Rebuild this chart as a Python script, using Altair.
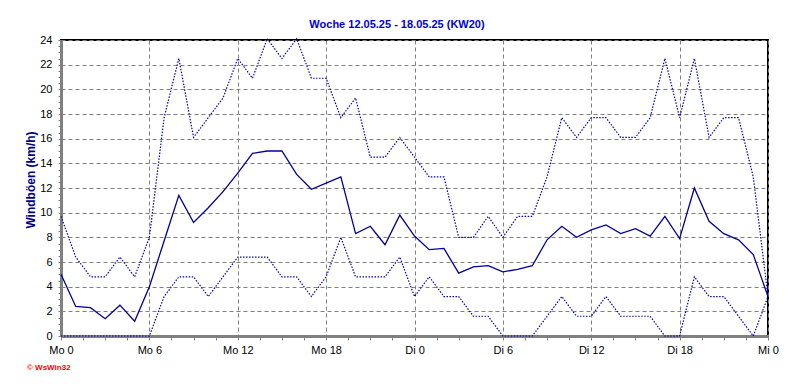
import altair as alt
import pandas as pd

# ---- data -------------------------------------------------------------
hours = list(range(49))
boeen_max = [9.7, 6.4, 4.8, 4.8, 6.4, 4.8, 8.0, 17.7, 22.5, 16.1, 17.7, 19.3, 22.5,
             20.9, 24.1, 22.5, 24.1, 20.9, 20.9, 17.7, 19.3, 14.5, 14.5, 16.1,
             14.5, 12.9, 12.9, 8.0, 8.0, 9.7, 8.0, 9.7, 9.7, 12.9, 17.7, 16.1,
             17.7, 17.7, 16.1, 16.1, 17.7, 22.5, 17.7, 22.5, 16.1, 17.7, 17.7, 12.9, 3.2]
boeen_mittel = [5.0, 2.4, 2.3, 1.4, 2.5, 1.2, 4.0, 7.7, 11.4, 9.2, 10.4, 11.7, 13.2,
                14.8, 15.0, 15.0, 13.1, 11.9, 12.4, 12.9, 8.3, 8.9, 7.4, 9.8,
                8.1, 7.0, 7.1, 5.1, 5.6, 5.7, 5.2, 5.4, 5.7, 7.8, 8.9, 8.0,
                8.6, 9.0, 8.3, 8.7, 8.1, 9.7, 7.9, 12.0, 9.3, 8.3, 7.8, 6.6, 3.2]
boeen_min = [0, 0, 0, 0, 0, 0, 0, 3.2, 4.8, 4.8, 3.2, 4.8, 6.4,
             6.4, 6.4, 4.8, 4.8, 3.2, 4.8, 8.0, 4.8, 4.8, 4.8, 6.4,
             3.2, 4.8, 3.2, 3.2, 1.6, 1.6, 0, 0, 0, 1.6, 3.2, 1.6,
             1.6, 3.2, 1.6, 1.6, 1.6, 0, 0, 4.8, 3.2, 3.2, 1.6, 0, 3.2]

x_major_step = 6
x_tick_labels = ["Mo 0", "Mo 6", "Mo 12", "Mo 18", "Di 0", "Di 6", "Di 12", "Di 18", "Mi 0"]
x_tick_values = [i * 1.5 for i in range(33)]
y_tick_values = [i * 0.5 for i in range(49)]

title_text = ["Woche 12.05.25 - 18.05.25 (KW20)"]
y_title_text = ["Windböen (km/h)"]
credit_text = ["© WsWin32"]

df = pd.DataFrame({"h": hours, "max": boeen_max, "mittel": boeen_mittel, "min": boeen_min})

# ---- styling ----------------------------------------------------------
W, H = 707, 296
FONT = "Liberation Sans"
GRID = "#808080"

label_list = "[" + ",".join("'%s'" % s for s in x_tick_labels) + "]"
x_label_expr = f"datum.value % {x_major_step} === 0 ? {label_list}[datum.value / {x_major_step}] : ''"

x_axis = alt.Axis(
    values=x_tick_values, labelExpr=x_label_expr, title=None,
    grid=True, gridColor=GRID, gridDash=[4, 3], gridWidth=1,
    gridOpacity={"condition": {"test": f"datum.value % {x_major_step} === 0", "value": 1}, "value": 0},
    domainColor=GRID, domainWidth=3, tickColor=GRID, tickSize=4, tickWidth=1,
    labelFont=FONT, labelFontSize=11, labelColor="black", labelPadding=4,
    labelFlush=False, labelOverlap=False,
)
y_axis = alt.Axis(
    values=y_tick_values, labelExpr="datum.value % 2 === 0 ? '' + datum.value : ''", title=None,
    grid=True, gridColor=GRID, gridDash=[4, 3], gridWidth=1,
    gridOpacity={"condition": {"test": "datum.value % 2 === 0", "value": 1}, "value": 0},
    domainColor=GRID, domainWidth=3, tickColor=GRID, tickSize=3, tickWidth=1,
    labelFont=FONT, labelFontSize=11, labelColor="black", labelPadding=6,
    labelFlush=False, labelOverlap=False,
)

x_enc = alt.X("h:Q", scale=alt.Scale(domain=[0, 48], nice=False, zero=False), axis=x_axis)

def y_enc(field):
    return alt.Y(f"{field}:Q", scale=alt.Scale(domain=[0, 24], nice=False, zero=True), axis=y_axis)

DOT = "#0000B0"
base = alt.Chart(df)
line_max = base.mark_line(color=DOT, strokeWidth=1.2, strokeDash=[1.5, 1.5]).encode(x=x_enc, y=y_enc("max"))
line_min = base.mark_line(color=DOT, strokeWidth=1.2, strokeDash=[1.5, 1.5]).encode(x=x_enc, y=y_enc("min"))
line_mean = base.mark_line(color="#00009A", strokeWidth=1.3).encode(x=x_enc, y=y_enc("mittel"))

title = alt.Chart(pd.DataFrame({"t": title_text})).mark_text(
    font=FONT, fontSize=11, fontWeight="bold", color="#0000DD", align="center", baseline="alphabetic"
).encode(text="t:N", x=alt.value(336), y=alt.value(-12))

y_title = alt.Chart(pd.DataFrame({"t": y_title_text})).mark_text(
    font=FONT, fontSize=12, fontWeight="bold", color="#00008B", align="center", baseline="middle", angle=270
).encode(text="t:N", x=alt.value(-30), y=alt.value(140))

credit = alt.Chart(pd.DataFrame({"t": credit_text})).mark_text(
    font=FONT, fontSize=8, fontWeight="bold", color="#FF0000", align="left", baseline="alphabetic"
).encode(text="t:N", x=alt.value(-34), y=alt.value(330))

chart = alt.layer(line_max, line_min, line_mean, title, y_title, credit).properties(
    width=W, height=H,
    autosize=alt.AutoSizeParams(type="none"),
    padding={"left": 53, "top": 32, "right": 16, "bottom": 43},
    background="white",
).configure_view(stroke="black", strokeWidth=2)

chart.save("out.html", embed_options={"renderer": "svg", "actions": False})
